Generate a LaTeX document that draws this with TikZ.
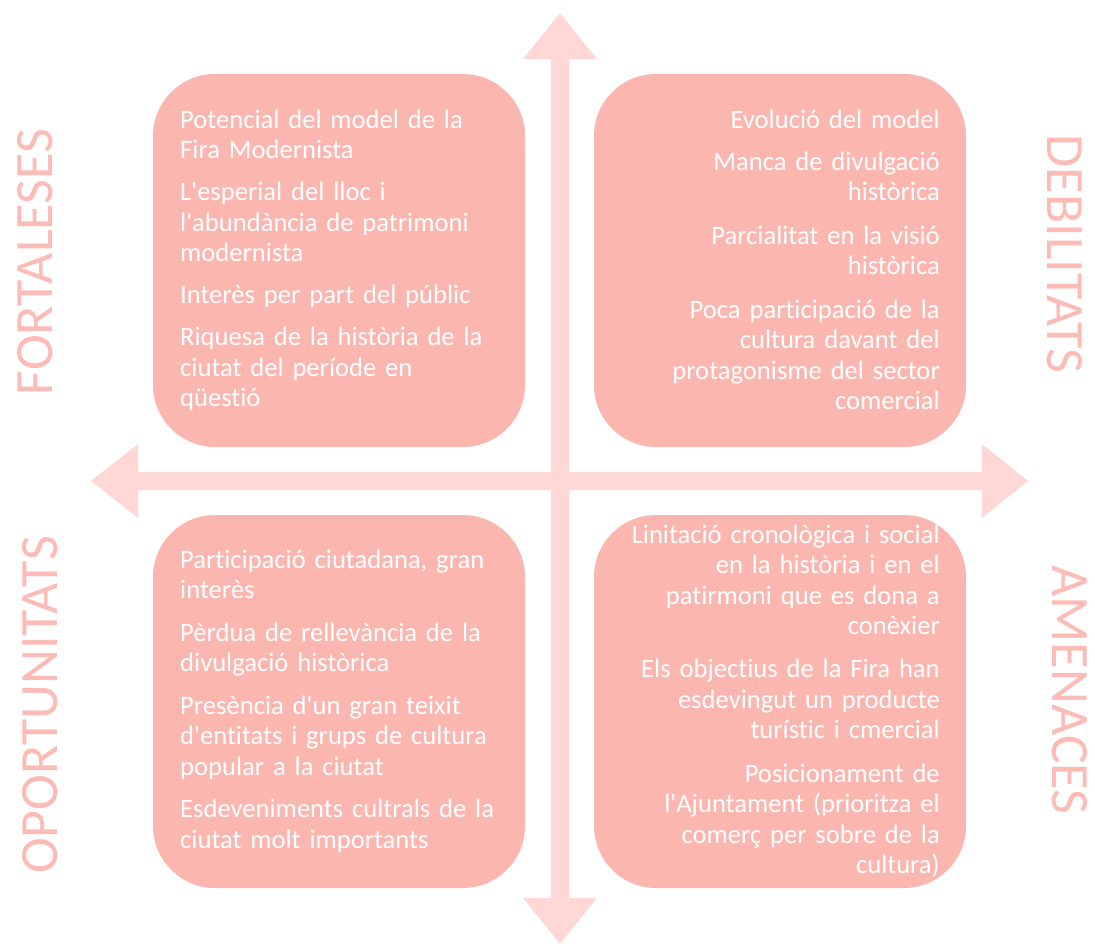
\documentclass[tikz,border=0pt]{standalone}
\usepackage{fontspec}
\setmainfont{Carlito}[Ligatures=NoCommon]
\definecolor{boxpink}{RGB}{251,182,176}
\definecolor{arrowpink}{RGB}{255,216,214}
\definecolor{labelpink}{RGB}{253,187,181}
\newcommand{\apos}{\textquotesingle}

\begin{document}
\begin{tikzpicture}[x=1pt, y=-1pt,
	quad/.style={fill=boxpink, rounded corners=62pt},
	items/.style={text=white, inner sep=0pt, text width=340pt, font=\fontsize{26.6}{30.5}\selectfont},
	side/.style={text=labelpink, inner sep=0pt, font=\fontsize{54}{60}\selectfont}]
	\useasboundingbox (0,0) rectangle (1095,946);
	% axes
	\fill[arrowpink] (560,13) -- (597,59) -- (569,59) -- (569,898) -- (597,898) -- (560,944)
		-- (523,898) -- (551,898) -- (551,59) -- (523,59) -- cycle;
	\fill[arrowpink] (91,481) -- (138,444) -- (138,472) -- (982,472) -- (982,444) -- (1028,481)
		-- (982,518) -- (982,490) -- (138,490) -- (138,518) -- cycle;
	% quadrants
	\foreach \x/\y in {153/74, 594/74, 153/515, 594/515}
		\fill[quad] (\x,\y) rectangle ++(372,373);
	\node[items, anchor=base west, align=left] (fortitems) at (180,128)
		{Potencial del model de la\\Fira Modernista\\[11.5pt]
		L\apos esperial del lloc i\\l\apos abundància de patrimoni\\modernista\\[11.5pt]
		Interès per part del públic\\[11.5pt]
		Riquesa de la història de la\\ciutat del període en\\qüestió};
	\node[items, anchor=base east, align=right] (debilitems) at (940,128)
		{Evolució del model\\[11.5pt]
		Manca de divulgació\\històrica\\[13pt]
		Parcialitat en la visió\\històrica\\[13pt]
		Poca participació de la\\cultura davant del\\protagonisme del sector\\comercial};
	\node[items, anchor=base west, align=left] (oportitems) at (180,568)
		{Participació ciutadana, gran\\interès\\[12pt]
		Pèrdua de rellevància de la\\divulgació històrica\\[12pt]
		Presència d\apos un gran teixit\\d\apos entitats i grups de cultura\\popular a la ciutat\\[12pt]
		Esdeveniments cultrals de la\\ciutat molt importants};
	\node[items, anchor=base east, align=right] (amenitems) at (940,543)
		{Linitació cronològica i social\\en la història i en el\\patirmoni que es dona a\\conèxier\\[12.5pt]
		Els objectius de la Fira han\\esdevingut un producte\\turístic i cmercial\\[13pt]
		Posicionament de\\l\apos Ajuntament (prioritza el\\comerç per sobre de la\\cultura)};
	% side labels
	\node[side, rotate=90] (fort) at (35,262) {FORTALESES};
	\node[side, rotate=90] (oport) at (40,705) {OPORTUNITATS};
	\node[side, rotate=-90] (debil) at (1065,254) {DEBILITATS};
	\node[side, rotate=-90] (amen) at (1070,690) {AMENACES};
\end{tikzpicture}
\end{document}
